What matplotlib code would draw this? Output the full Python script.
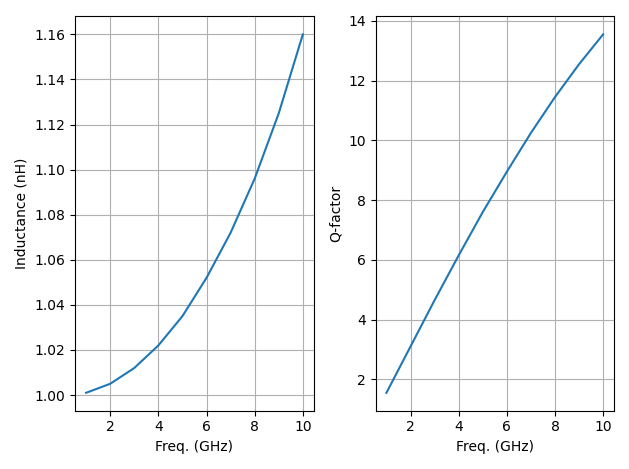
import matplotlib
matplotlib.use("Agg")
import matplotlib.pyplot as plt

freq = [1, 2, 3, 4, 5, 6, 7, 8, 9, 10]
inductance = [1.001, 1.005, 1.012, 1.022, 1.035, 1.052, 1.072, 1.096, 1.125, 1.160]
qfactor = [1.55, 3.1, 4.65, 6.15, 7.6, 8.95, 10.25, 11.45, 12.55, 13.55]

fig, (ax1, ax2) = plt.subplots(1, 2, figsize=(6.29, 4.69), dpi=100)
ax1.plot(freq, inductance)
ax1.set_xlabel("Freq. (GHz)")
ax1.set_ylabel("Inductance (nH)")
ax1.grid(True)
ax2.plot(freq, qfactor)
ax2.set_xlabel("Freq. (GHz)")
ax2.set_ylabel("Q-factor")
ax2.grid(True)
fig.tight_layout()
fig.savefig("out.png")
